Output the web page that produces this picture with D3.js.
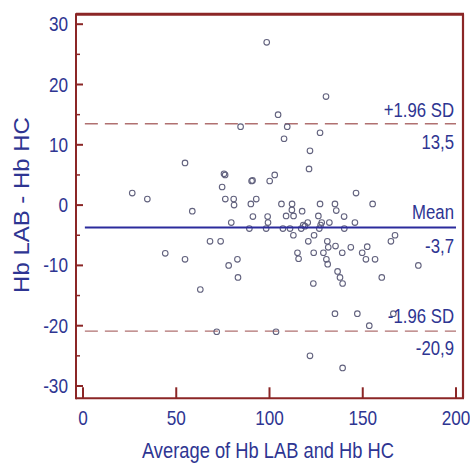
<!DOCTYPE html>
<html>
<head>
<meta charset="utf-8">
<script src="https://cdn.jsdelivr.net/npm/d3@7"></script>
<style>
  html, body { margin: 0; padding: 0; background: #fff; }
  svg { display: block; }
  text { font-family: "Liberation Sans", Arial, sans-serif; }
</style>
</head>
<body>
<svg id="chart" width="470" height="464"></svg>
<script>
// ---- data ----
const avgValues = [
  98.5, 130.3, 104.6, 84.5, 109.5, 127.1, 107.8, 121.7, 54.7, 121.2,
  75.6, 76.2, 90.4, 90.9, 100.1, 102.8, 74.6, 26.4, 34.5, 76.3,
  80.8, 81.0, 92.9, 90.0, 146.4, 106.4, 112.1, 127.1, 135.1, 155.3,
  58.6, 112.0, 117.5, 135.8, 91.1, 99.0, 108.9, 112.9, 126.2, 140.0,
  79.5, 99.2, 120.5, 128.0, 132.1, 145.8, 89.2, 98.2, 107.2, 111.0,
  117.0, 126.7, 140.1, 119.0, 112.8, 123.9, 167.3, 165.1, 68.1, 73.8,
  120.8, 131.0, 131.5, 135.4, 143.6, 152.4, 44.1, 115.0, 123.7, 128.9,
  139.0, 149.7, 54.7, 82.8, 115.6, 130.5, 151.7, 156.6, 78.1, 131.2,
  179.8, 136.5, 137.8, 83.1, 160.2, 139.2, 123.5, 62.9, 71.7, 103.5,
  135.1, 147.1, 153.5, 166.4, 121.7, 139.2, 118.1, 127.4
];
const diffValues = [
  27.0, 18.0, 15.0, 13.0, 13.0, 12.0, 11.0, 9.0, 7.0, 6.0,
  5.2, 5.0, 4.0, 4.1, 4.0, 5.0, 3.0, 2.0, 1.0, 1.0,
  1.0, 0.0, 1.0, 0.2, 2.0, 0.2, 0.2, 0.2, 0.2, 0.2,
  -1.0, -0.8, -1.0, -0.9, -1.9, -1.9, -1.8, -1.8, -1.8, -1.9,
  -2.9, -2.9, -2.9, -2.9, -2.9, -2.9, -3.9, -3.9, -3.9, -3.9,
  -3.9, -3.9, -3.9, -3.5, -5.0, -5.0, -5.0, -6.0, -6.0, -6.0,
  -6.0, -6.0, -7.0, -6.8, -7.0, -6.9, -8.0, -7.9, -7.9, -7.9,
  -7.9, -7.9, -9.0, -9.0, -8.9, -9.0, -9.0, -9.0, -10.0, -9.8,
  -10.0, -11.0, -12.0, -12.0, -12.0, -13.0, -13.0, -14.0, -21.0, -21.0,
  -18.0, -18.0, -20.0, -18.0, -25.0, -27.0, -3.3, -3.3
];
const meanDiff = -3.7;
const upperLoA = 13.5;
const lowerLoA = -20.9;
const meanLabels = ["Mean", "-3,7"];
const upperLabels = ["+1.96 SD", "13,5"];
const lowerLabels = ["-1.96 SD", "-20,9"];
const xTicks = [0, 50, 100, 150, 200];
const xTickLabels = ["0", "50", "100", "150", "200"];
const yTicks = [-30, -20, -10, 0, 10, 20, 30];
const yTickLabels = ["-30", "-20", "-10", "0", "10", "20", "30"];
const yMinorTicks = [-25, -15, -5, 5, 15, 25];
const xTitle = "Average of Hb LAB and Hb HC";
const yTitle = "Hb LAB - Hb HC";

// ---- layout ----
const svg = d3.select("#chart");
const x = d3.scaleLinear().domain([0, 200]).range([83, 456]);
const y = d3.scaleLinear().domain([-30, 30]).range([386, 24.2]);
const frame = { left: 76, right: 463, top: 14.3, bottom: 398.3 };
const frameColor = "#8b2626";
const textBlue = "#2e3592";
const sx = 0.86;

// frame
svg.append("line").attr("x1", frame.left).attr("x2", frame.right + 1)
  .attr("y1", frame.top).attr("y2", frame.top)
  .attr("stroke", frameColor).attr("stroke-width", 3);
svg.append("line").attr("x1", frame.right).attr("x2", frame.right)
  .attr("y1", frame.top).attr("y2", frame.bottom)
  .attr("stroke", frameColor).attr("stroke-width", 2.2);
svg.append("line").attr("x1", frame.left).attr("x2", frame.right + 1)
  .attr("y1", frame.bottom).attr("y2", frame.bottom)
  .attr("stroke", frameColor).attr("stroke-width", 2);
svg.append("line").attr("x1", frame.left).attr("x2", frame.left)
  .attr("y1", frame.top - 1).attr("y2", frame.bottom + 1)
  .attr("stroke", frameColor).attr("stroke-width", 2);

// y ticks (inward)
svg.selectAll(".ytick").data(yTicks).enter().append("line")
  .attr("x1", frame.left).attr("x2", frame.left + 7)
  .attr("y1", d => y(d)).attr("y2", d => y(d))
  .attr("stroke", frameColor).attr("stroke-width", 2);
svg.selectAll(".yminor").data(yMinorTicks).enter().append("line")
  .attr("x1", frame.left).attr("x2", frame.left + 4)
  .attr("y1", d => y(d)).attr("y2", d => y(d))
  .attr("stroke", frameColor).attr("stroke-width", 1.5);
// x ticks (inward, upward)
svg.selectAll(".xtick").data(xTicks).enter().append("line")
  .attr("x1", d => x(d)).attr("x2", d => x(d))
  .attr("y1", frame.bottom).attr("y2", frame.bottom - 11)
  .attr("stroke", frameColor).attr("stroke-width", 2);

// tick labels
svg.selectAll(".ylab").data(yTicks).enter().append("text")
  .attr("transform", d => `translate(68,${y(d) + 7}) scale(${sx},1)`)
  .attr("text-anchor", "end").attr("font-size", 20)
  .attr("fill", textBlue)
  .text((d, i) => yTickLabels[i]);
svg.selectAll(".xlab").data(xTicks).enter().append("text")
  .attr("transform", d => `translate(${x(d)},425) scale(${sx},1)`)
  .attr("text-anchor", "middle").attr("font-size", 20)
  .attr("fill", textBlue)
  .text((d, i) => xTickLabels[i]);

// axis titles
svg.append("text")
  .attr("transform", `translate(268,458) scale(${sx},1)`)
  .attr("text-anchor", "middle").attr("font-size", 21.3)
  .attr("fill", textBlue).text(xTitle);
svg.append("text")
  .attr("transform", `translate(29.3,205) rotate(-90) scale(1.09,1)`)
  .attr("text-anchor", "middle").attr("font-size", 22)
  .attr("fill", textBlue).text(yTitle);

// reference lines
const lineX0 = x(1), lineX1 = x(200);
[upperLoA, lowerLoA].forEach(v => {
  svg.append("line").attr("x1", lineX0).attr("x2", lineX1)
    .attr("y1", y(v)).attr("y2", y(v))
    .attr("stroke", "#b07070").attr("stroke-width", 1.4)
    .attr("stroke-dasharray", "13,7");
});

// points
svg.append("g").selectAll("circle").data(avgValues).enter().append("circle")
  .attr("cx", d => x(d)).attr("cy", (d, i) => y(diffValues[i]))
  .attr("r", 2.8).attr("fill", "none")
  .attr("stroke", "#62627e").attr("stroke-width", 1.1);

svg.append("line").attr("x1", lineX0).attr("x2", lineX1)
  .attr("y1", y(meanDiff)).attr("y2", y(meanDiff))
  .attr("stroke", "#2b2b9c").attr("stroke-width", 2);

// annotations
function annot(v, labels, above, below) {
  svg.append("text")
    .attr("transform", `translate(454,${y(v) - above}) scale(${sx},1)`)
    .attr("text-anchor", "end").attr("font-size", 19.5)
    .attr("fill", textBlue).text(labels[0]);
  svg.append("text")
    .attr("transform", `translate(454,${y(v) + below}) scale(${sx},1)`)
    .attr("text-anchor", "end").attr("font-size", 19.5)
    .attr("fill", textBlue).text(labels[1]);
}
annot(upperLoA, upperLabels, 7, 25.5);
annot(meanDiff, meanLabels, 8.5, 26);
annot(lowerLoA, lowerLabels, 7.7, 24);
</script>
</body>
</html>
